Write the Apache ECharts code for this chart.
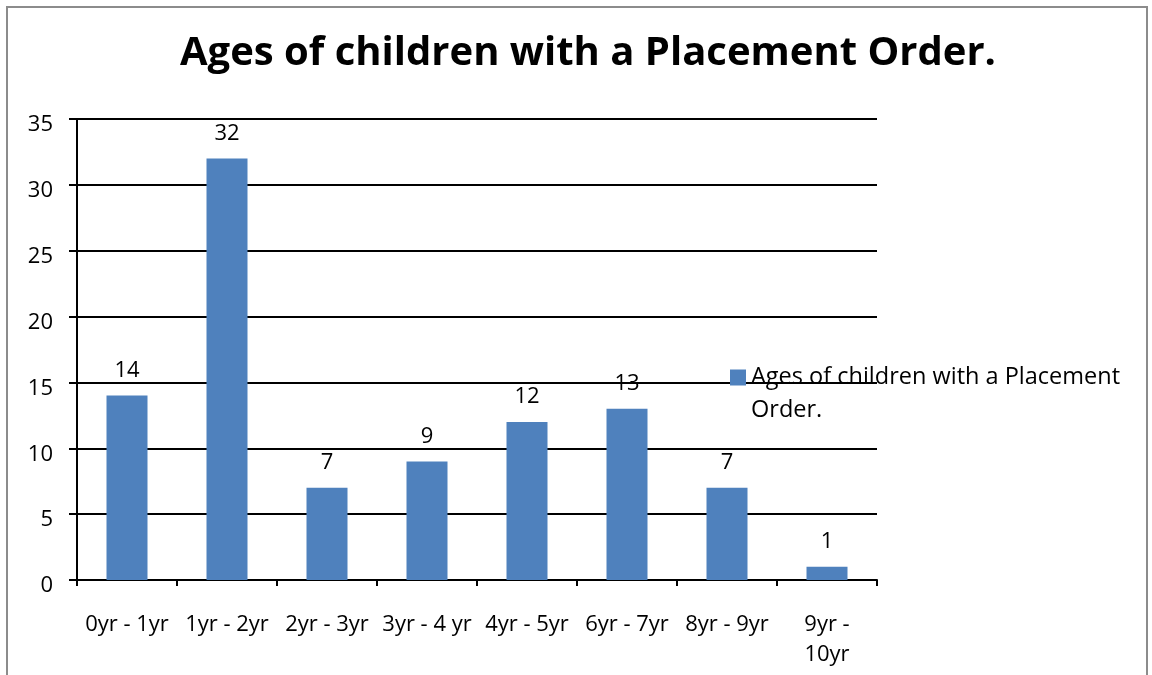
<!DOCTYPE html>
<html>
<head>
<meta charset="utf-8">
<script src="https://cdn.jsdelivr.net/npm/echarts@6/dist/echarts.min.js"></script>
<style>
  html, body { margin: 0; padding: 0; background: #fff; }
  #frame {
    position: absolute; left: 6px; top: 6px; width: 1142px; height: 700px;
    border: 2px solid #8c8c8c; box-sizing: border-box;
  }
  #chart { position: absolute; left: 0; top: 0; width: 1152px; height: 675px; }
</style>
</head>
<body>
<div id="frame"></div>
<div id="chart"></div>
<script>
// ages of children with a placement order
var categories = ["0yr - 1yr", "1yr - 2yr", "2yr - 3yr", "3yr - 4 yr", "4yr - 5yr", "6yr - 7yr", "8yr - 9yr", "9yr - 10yr"];
var counts = [14, 32, 7, 9, 12, 13, 7, 1];
var yTicks = [0, 5, 10, 15, 20, 25, 30, 35];

var seriesName = "Ages of children with a Placement Order.";
var font = "'Open Sans', sans-serif";

var myChart = echarts.init(document.getElementById("chart"));
myChart.setOption({
  animation: false,
  title: {
    text: seriesName,
    left: 583,
    top: 29,
    textAlign: "center",
    textStyle: { fontFamily: font, fontWeight: "bold", fontSize: 40, color: "#000" }
  },
  legend: {
    left: 725,
    top: 323,
    itemWidth: 16,
    itemHeight: 16,
    itemGap: 8,
    icon: "rect",
    data: [seriesName],
    // leading blank line so the square sits next to the first line, like the original
    formatter: function () {
      return " \nAges of children with a Placement\nOrder.";
    },
    textStyle: { fontFamily: font, fontSize: 23.5, color: "#000", lineHeight: 33 }
  },
  grid: { left: 77, right: 275, top: 119, bottom: 95 },
  xAxis: {
    type: "category",
    data: categories,
    axisLine: { lineStyle: { color: "#000", width: 2 } },
    axisTick: { show: true, length: 6, lineStyle: { color: "#000", width: 2 } },
    axisLabel: {
      margin: 30,
      interval: 0,
      fontFamily: font,
      fontSize: 22,
      lineHeight: 30,
      color: "#000",
      formatter: function (v) {
        return v === "9yr - 10yr" ? "9yr -\n10yr" : v;
      }
    }
  },
  yAxis: {
    type: "value",
    min: yTicks[0],
    max: yTicks[yTicks.length - 1],
    interval: 5,
    axisLine: { show: true, lineStyle: { color: "#000", width: 2 } },
    axisTick: { show: true, length: 8, lineStyle: { color: "#000", width: 2 } },
    splitLine: { lineStyle: { color: "#000", width: 2 } },
    // labels sit a little below their grid lines in the original
    axisLabel: {
      margin: 24,
      verticalAlign: "top",
      lineHeight: 12,
      fontFamily: font,
      fontSize: 22,
      color: "#000"
    }
  },
  series: [
    {
      name: seriesName,
      type: "bar",
      data: counts,
      barWidth: 41,
      itemStyle: { color: "#4F81BD" },
      label: {
        show: true,
        position: "top",
        distance: 14,
        fontFamily: font,
        fontSize: 22,
        color: "#000"
      }
    }
  ]
});
</script>
</body>
</html>
